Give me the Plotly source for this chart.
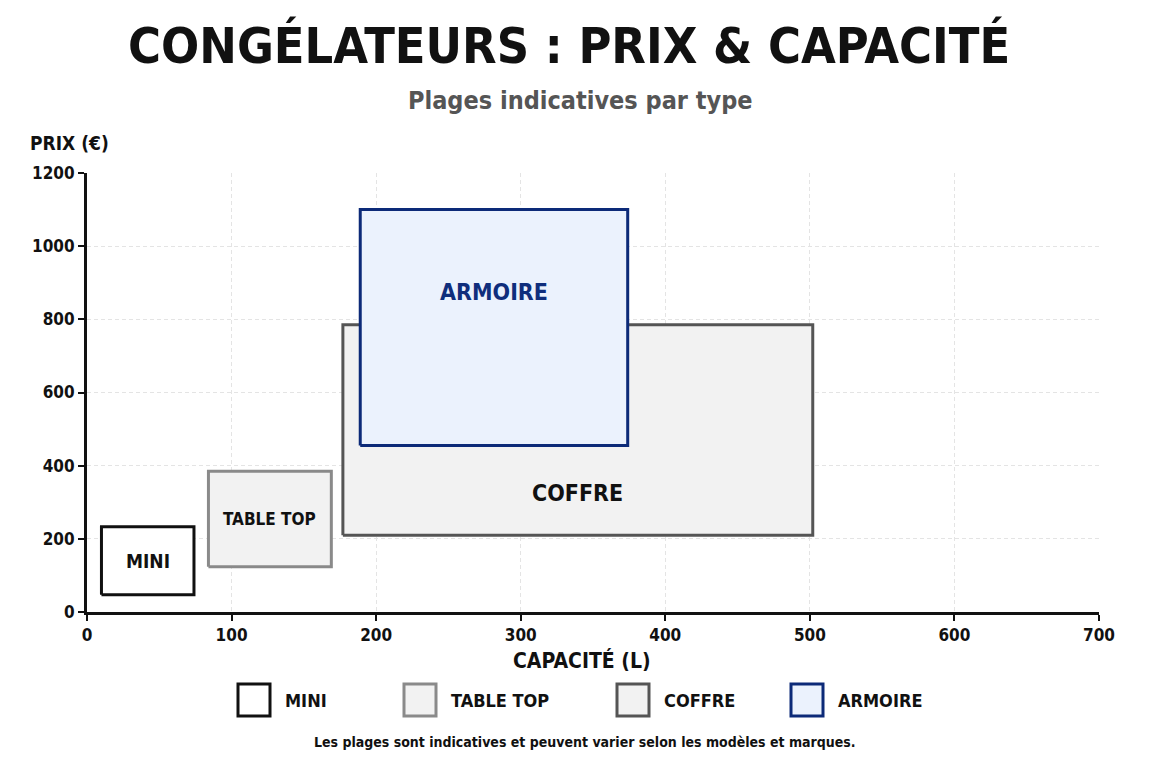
import plotly.graph_objects as go

# ---- data ----
types = ["MINI", "TABLE TOP", "COFFRE", "ARMOIRE"]
cap_min = [10, 84, 177, 189]
cap_max = [74, 169, 502, 374]
prix_min = [47, 124, 210, 455]
prix_max = [233, 385, 785, 1100]
x_ticks = [0, 100, 200, 300, 400, 500, 600, 700]
y_ticks = [0, 200, 400, 600, 800, 1000, 1200]

# ---- styles ----
FONT = "Liberation Sans Narrow, DejaVu Sans Condensed, Roboto, Arial"
line_colors = ["#111111", "#8a8a8a", "#555555", "#0c2a78"]
fill_colors = ["#ffffff", "#f2f2f2", "#f2f2f2", "#ebf2fd"]
text_colors = ["#111111", "#111111", "#111111", "#0f2e7c"]
text_sizes = [19, 17, 23, 23]
label_frac = [0.5, 0.5, 0.2, 0.65]  # vertical position of label within box

W, H = 1152, 768
L, R, T, B = 87, 1099, 173, 612


def px(xp):
    return (xp - L) / (R - L)


def py(yp):
    return (B - yp) / (B - T)


fig = go.Figure()
for i, t in enumerate(types):
    x0, x1, y0, y1 = cap_min[i], cap_max[i], prix_min[i], prix_max[i]
    fig.add_trace(go.Scatter(
        x=[x0, x1, x1, x0, x0], y=[y0, y0, y1, y1, y0],
        mode="lines", fill="toself", fillcolor=fill_colors[i],
        line=dict(color=line_colors[i], width=3),
        name=t, hoverinfo="name", showlegend=False,
    ))
    fig.add_annotation(
        x=(x0 + x1) / 2, y=y0 + (y1 - y0) * label_frac[i], xref="x", yref="y",
        text=f"<b>{t}</b>", showarrow=False,
        font=dict(family=FONT, size=text_sizes[i], color=text_colors[i]),
    )

# manual legend
leg_x = [238, 404, 617, 791]
for i, t in enumerate(types):
    x0 = leg_x[i]
    fig.add_shape(type="rect", xref="paper", yref="paper",
                  x0=px(x0), x1=px(x0 + 32), y0=py(716), y1=py(684),
                  line=dict(color=line_colors[i], width=3), fillcolor=fill_colors[i])
    fig.add_annotation(x=px(x0 + 45), y=py(700), xref="paper", yref="paper",
                       xanchor="left", yanchor="middle", showarrow=False,
                       text=f"<b>{t}</b>", font=dict(family=FONT, size=18, color="#111111"))

# titles
fig.add_annotation(x=px(569), y=py(45), xref="paper", yref="paper", showarrow=False,
                   xanchor="center", yanchor="middle",
                   text="<b>CONGÉLATEURS : PRIX & CAPACITÉ</b>",
                   font=dict(family=FONT, size=50, color="#111111"))
fig.add_annotation(x=px(580), y=py(100), xref="paper", yref="paper", showarrow=False,
                   xanchor="center", yanchor="middle",
                   text="<b>Plages indicatives par type</b>",
                   font=dict(family=FONT, size=25, color="#555555"))
fig.add_annotation(x=px(28), y=py(143), xref="paper", yref="paper", showarrow=False,
                   xanchor="left", yanchor="middle",
                   text="<b>PRIX (€)</b>",
                   font=dict(family=FONT, size=19, color="#111111"))
fig.add_annotation(x=px(582), y=py(660), xref="paper", yref="paper", showarrow=False,
                   xanchor="center", yanchor="middle",
                   text="<b>CAPACITÉ (L)</b>",
                   font=dict(family=FONT, size=21, color="#111111"))
fig.add_annotation(x=px(585), y=py(742), xref="paper", yref="paper", showarrow=False,
                   xanchor="center", yanchor="middle",
                   text="<b>Les plages sont indicatives et peuvent varier selon les modèles et marques.</b>",
                   font=dict(family=FONT, size=14, color="#111111"))

axis_common = dict(
    showline=True, linewidth=3, linecolor="#111111",
    ticks="outside", ticklen=6, tickwidth=2, tickcolor="#111111",
    showgrid=True, gridcolor="#e4e4e4", gridwidth=1, griddash="4px,3px",
    zeroline=False, tickfont=dict(family=FONT, size=17, color="#111111"),
    fixedrange=True,
)
fig.update_xaxes(range=[0, 700], tickvals=x_ticks,
                 ticktext=[f"<b>{v}</b>" for v in x_ticks], **axis_common)
fig.update_yaxes(range=[0, 1200], tickvals=y_ticks,
                 ticktext=[f"<b>{v}</b>" for v in y_ticks], **axis_common)

fig.update_layout(
    width=W, height=H,
    margin=dict(l=L, r=W - R, t=T, b=H - B),
    paper_bgcolor="#ffffff", plot_bgcolor="#ffffff",
    showlegend=False,
)

fig.write_html("out.html")
